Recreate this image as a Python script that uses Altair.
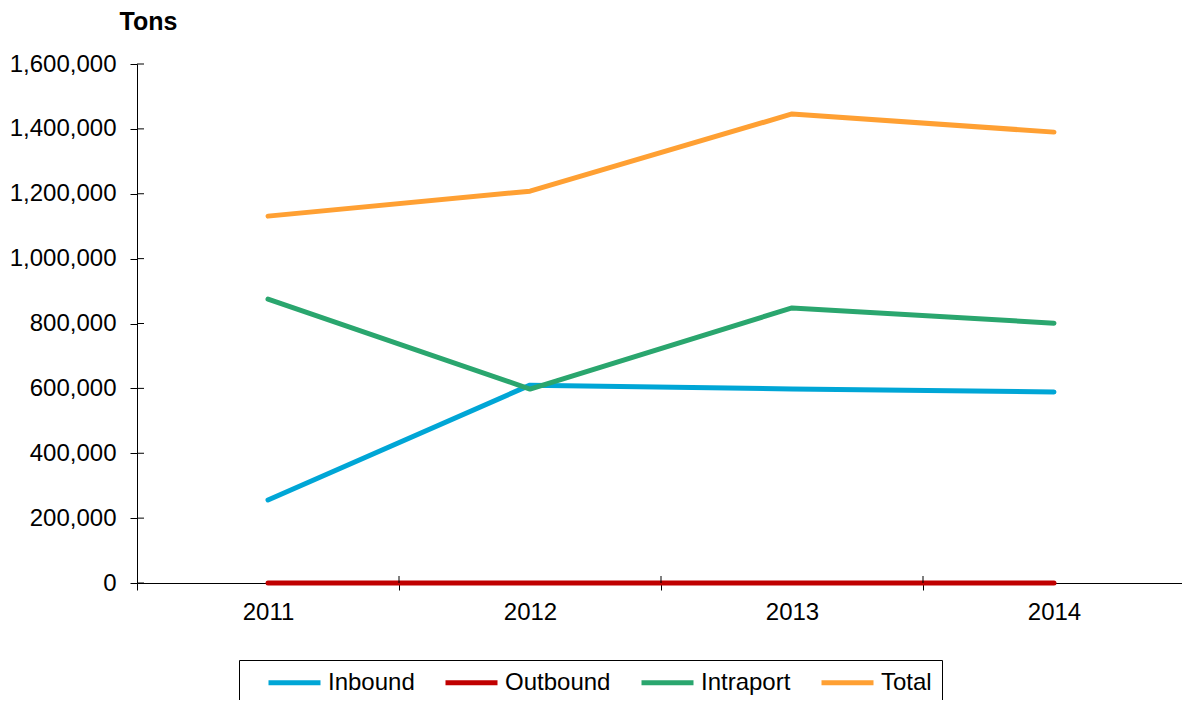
import altair as alt
import pandas as pd

years = ["2011", "2012", "2013", "2014"]
series = ["Inbound", "Outbound", "Intraport", "Total"]
inbound = [256000, 610000, 598000, 589000]
outbound = [0, 0, 0, 0]
intraport = [875000, 598000, 848000, 801000]
total = [1131000, 1208000, 1446000, 1390000]
colors = ["#00A6D6", "#C00000", "#2AA66E", "#FFA033"]
y_ticks = [0, 200000, 400000, 600000, 800000, 1000000, 1200000, 1400000, 1600000]

values = {"Inbound": inbound, "Outbound": outbound, "Intraport": intraport, "Total": total}
rows = []
for s in series:
    for y, v in zip(years, values[s]):
        rows.append({"Year": y, "Series": s, "Tons": v})
df = pd.DataFrame(rows)
ytick_df = pd.DataFrame({"Tons": y_ticks})
xtick_df = pd.DataFrame({"Year": years[1:]})

FONT = "Liberation Sans"
H = 519
PLOT_W = 1048
HALF_BAND = PLOT_W / len(years) / 2

x_scale = alt.Scale(type="band", paddingInner=0, paddingOuter=0, range=[0, PLOT_W], domain=years)
y_scale = alt.Scale(domain=[0, 1600000], nice=False)

x_axis = alt.Axis(
    title=None, tickBand="extent", labelAngle=0, tickSize=7, labelPadding=10,
    labelFontSize=24, labelFont=FONT, labelColor="black",
    domainColor="black", tickColor="black", grid=False,
)
y_axis = alt.Axis(
    title="Tons", titleAngle=0, titleX=11, titleY=-43, titleAlign="center",
    titleBaseline="middle", titleFontWeight="bold", titleFontSize=25,
    titleFont=FONT, titleColor="black",
    values=y_ticks, format=",.0f", tickSize=7, labelPadding=14,
    labelFontSize=24, labelFont=FONT, labelColor="black",
    domainColor="black", tickColor="black", grid=False,
)

lines = alt.Chart(df).mark_line(
    strokeWidth=5, strokeCap="round", strokeJoin="round"
).encode(
    x=alt.X("Year:O", scale=x_scale, axis=x_axis),
    y=alt.Y("Tons:Q", scale=y_scale, axis=y_axis),
    color=alt.Color(
        "Series:N",
        sort=series,
        scale=alt.Scale(domain=series, range=colors),
        legend=alt.Legend(
            title=None,
            orient="none", legendX=102, legendY=596, direction="horizontal",
            symbolType="M-2.6,0H2.6", symbolSize=400, symbolStrokeWidth=5, symbolOffset=33,
            labelFontSize=24, labelFont=FONT, labelColor="black", labelOffset=21,
            labelLimit=300, columnPadding=11, padding=10,
            strokeColor="black", fillColor="white",
        ),
    ),
)

# inner halves of the crossing tick marks
ytick_inner = alt.Chart(ytick_df).mark_rule(color="black", strokeWidth=1).encode(
    y=alt.Y("Tons:Q", scale=y_scale, axis=y_axis),
    x=alt.value(0),
    x2=alt.value(7),
)
xtick_inner = alt.Chart(xtick_df).mark_rule(
    color="black", strokeWidth=1, xOffset=-HALF_BAND
).encode(
    x=alt.X("Year:O", scale=x_scale, axis=x_axis),
    y=alt.value(H - 7),
    y2=alt.value(H),
)

chart = alt.layer(lines, ytick_inner, xtick_inner).properties(
    width=1045,
    height=H,
    autosize=alt.AutoSizeParams(type="none"),
    padding={"left": 137, "top": 64, "right": 0, "bottom": 117},
).configure_view(stroke=None)

chart.save("out.html", embed_options={"renderer": "svg", "actions": False})
